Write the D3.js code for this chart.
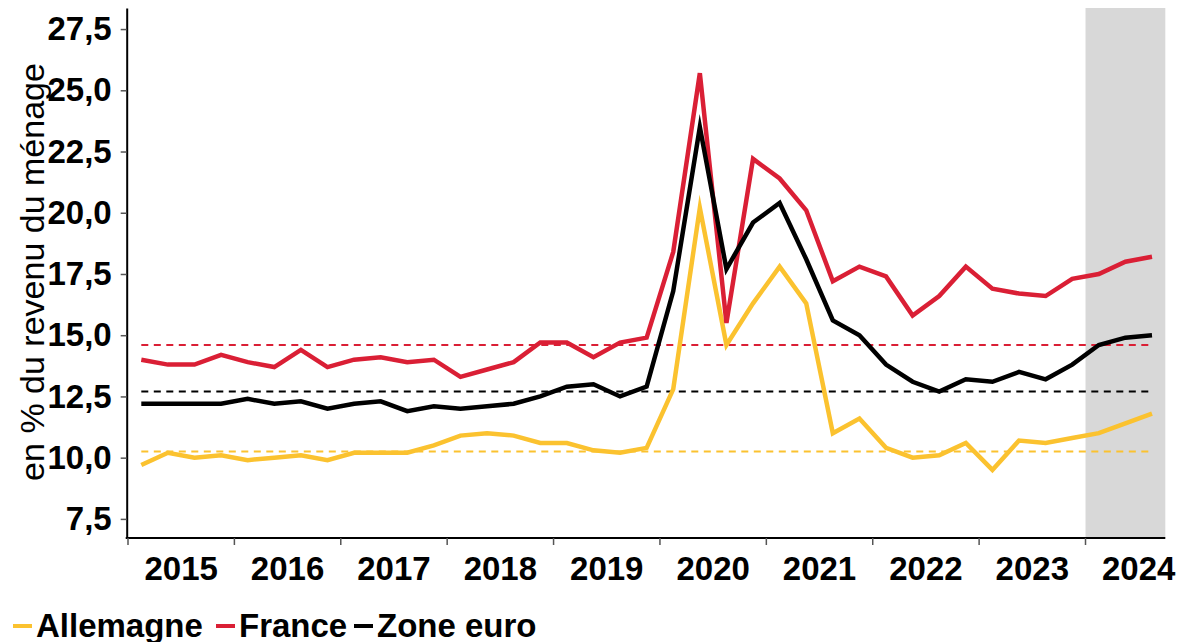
<!DOCTYPE html>
<html>
<head>
<meta charset="utf-8">
<script src="https://cdn.jsdelivr.net/npm/d3@7"></script>
<style>
  body { margin: 0; background: #fff; }
  svg { display: block; font-family: "Liberation Sans", Arial, sans-serif; }
</style>
</head>
<body>
<div class="container"></div>
<script>
// trimestres 2015T1 -> 2024T3
var years = [2015, 2016, 2017, 2018, 2019, 2020, 2021, 2022, 2023, 2024];
var quarters = [];
years.forEach(function(yr) {
    [1, 2, 3, 4].forEach(function(q) {
        if (yr == 2024 && q == 4) return;
        quarters.push(yr + 'T' + q);
    });
});

var allemagne = [9.7, 10.2, 10.0, 10.1, 9.9, 10.0, 10.1, 9.9, 10.2, 10.2,
    10.2, 10.5, 10.9, 11.0, 10.9, 10.6, 10.6, 10.3, 10.2, 10.4,
    12.8, 20.2, 14.6, 16.3, 17.8, 16.3, 11.0, 11.6, 10.4, 10.0,
    10.1, 10.6, 9.5, 10.7, 10.6, 10.8, 11.0, 11.4, 11.8];
var france = [14.0, 13.8, 13.8, 14.2, 13.9, 13.7, 14.4, 13.7, 14.0, 14.1,
    13.9, 14.0, 13.3, 13.6, 13.9, 14.7, 14.7, 14.1, 14.7, 14.9,
    18.4, 25.7, 15.5, 22.2, 21.4, 20.1, 17.2, 17.8, 17.4, 15.8,
    16.6, 17.8, 16.9, 16.7, 16.6, 17.3, 17.5, 18.0, 18.2];
var zoneEuro = [12.2, 12.2, 12.2, 12.2, 12.4, 12.2, 12.3, 12.0, 12.2, 12.3,
    11.9, 12.1, 12.0, 12.1, 12.2, 12.5, 12.9, 13.0, 12.5, 12.9,
    16.8, 23.5, 17.7, 19.6, 20.4, 18.1, 15.6, 15.0, 13.8, 13.1,
    12.7, 13.2, 13.1, 13.5, 13.2, 13.8, 14.6, 14.9, 15.0];

// moyennes de long terme (pointillés)
var moyennes = [10.25, 14.6, 12.7];

var seriesNames = ['Allemagne', 'France', 'Zone euro'];
var seriesColors = ['#FBC22F', '#DA1F35', '#000000'];
var yTicks = [7.5, 10, 12.5, 15, 17.5, 20, 22.5, 25, 27.5];
var shadeStart = '2024T1';

var W = 1178, H = 642;
var pLeft = 126.7, pRight = 1165.3, pTop = 8, pBottom = 538;

var svg = d3.select('.container')
    .append('svg')
    .attr('width', W)
    .attr('height', H);

var x = d3.scaleBand()
    .domain(quarters)
    .range([pLeft + 1.3, pRight])
    .padding(0);
var bw = x.bandwidth();
var cx = function(q) { return x(q) + bw / 2; };

var y = d3.scaleLinear()
    .domain([6.72, 28.36])
    .range([pBottom, pTop]);

// zone grisée (prévision)
svg.append('rect')
    .attr('x', x(shadeStart))
    .attr('y', pTop)
    .attr('width', pRight - x(shadeStart))
    .attr('height', pBottom - pTop)
    .style('fill', '#D8D8D8');

// moyennes en pointillés
svg.selectAll('.moy')
    .data(moyennes)
    .enter()
    .append('line')
    .attr('class', 'moy')
    .attr('x1', cx(quarters[0]))
    .attr('x2', cx(quarters[quarters.length - 1]))
    .attr('y1', d => y(d))
    .attr('y2', d => y(d))
    .style('stroke', (d, i) => seriesColors[i])
    .style('stroke-width', 2)
    .style('stroke-dasharray', '7,5.5');

var line = d3.line()
    .x((d, i) => cx(quarters[i]))
    .y(d => y(d));

var all = [allemagne, france, zoneEuro];
svg.selectAll('.serie')
    .data(all)
    .enter()
    .append('path')
    .attr('class', 'serie')
    .attr('d', d => line(d))
    .style('fill', 'none')
    .style('stroke', (d, i) => seriesColors[i])
    .style('stroke-width', 4.5)
    .style('stroke-linejoin', 'miter')
    .style('stroke-miterlimit', 6);

// axe Y
var yAxis = svg.append('g')
    .attr('transform', 'translate(' + pLeft + ',0)')
    .call(d3.axisLeft(y)
        .tickValues(yTicks)
        .tickSize(6)
        .tickPadding(9)
        .tickSizeOuter(0)
        .tickFormat(d => d3.format('.1f')(d).replace('.', ',')));
yAxis.select('.domain').style('stroke', '#000').style('stroke-width', 2);
yAxis.selectAll('.tick line').style('stroke', '#555').style('stroke-width', 1.5);
yAxis.selectAll('text')
    .style('font-size', '33px')
    .style('font-weight', 'bold')
    .style('fill', '#000')
    .style('font-family', '"Liberation Sans", Arial, sans-serif');

// axe X
svg.append('line')
    .attr('x1', pLeft - 1)
    .attr('x2', pRight)
    .attr('y1', pBottom)
    .attr('y2', pBottom)
    .style('stroke', '#000')
    .style('stroke-width', 2);

svg.selectAll('.xtick')
    .data(years)
    .enter()
    .append('line')
    .attr('class', 'xtick')
    .attr('x1', d => x(d + 'T1'))
    .attr('x2', d => x(d + 'T1'))
    .attr('y1', pBottom)
    .attr('y2', pBottom + 7)
    .style('stroke', '#555')
    .style('stroke-width', 1.5);

svg.selectAll('.xlab')
    .data(years)
    .enter()
    .append('text')
    .attr('class', 'xlab')
    .attr('x', d => x(d + 'T1') + 2 * bw)
    .attr('y', 580)
    .attr('text-anchor', 'middle')
    .style('font-size', '33px')
    .style('font-weight', 'bold')
    .text(d => d);

// titre axe Y
svg.append('text')
    .attr('transform', 'translate(44,272) rotate(-90)')
    .attr('text-anchor', 'middle')
    .style('font-size', '34px')
    .text('en % du revenu du ménage');

// légende
var legX = [13, 216, 354];
var leg = svg.selectAll('.leg')
    .data(seriesNames)
    .enter()
    .append('g')
    .attr('class', 'leg')
    .attr('transform', (d, i) => 'translate(' + legX[i] + ',0)');
leg.append('line')
    .attr('x1', 0)
    .attr('x2', 19)
    .attr('y1', 626)
    .attr('y2', 626)
    .style('stroke', (d, i) => seriesColors[i])
    .style('stroke-width', 4);
leg.append('text')
    .attr('x', 23)
    .attr('y', 637)
    .style('font-size', '33px')
    .style('font-weight', 'bold')
    .text(d => d);
</script>
</body>
</html>
